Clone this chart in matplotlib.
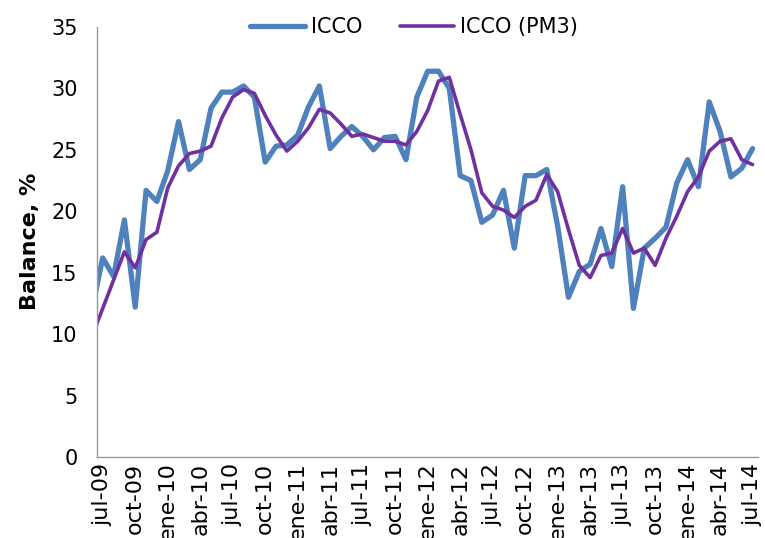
import matplotlib
matplotlib.use("Agg")
import matplotlib.pyplot as plt
import numpy as np

# Monthly data; first entry (jun-09) lies just left of the plotted range
months = list(range(-1, 61))
icco = [12.0, 16.2, 14.7, 19.3, 12.2, 21.7, 20.8, 23.3, 27.3, 23.4, 24.2,
        28.4, 29.7, 29.7, 30.2, 29.3, 24.0, 25.3, 25.4, 26.2, 28.5,
        30.2, 25.1, 26.1, 26.9, 26.1, 25.0, 26.0, 26.1, 24.2, 29.3,
        31.4, 31.4, 30.0, 22.9, 22.5, 19.1, 19.7, 21.7, 17.0, 22.9,
        22.9, 23.4, 18.8, 13.0, 15.1, 15.7, 18.6, 15.5, 22.0, 12.1,
        17.0, 17.8, 18.7, 22.3, 24.2, 22.0, 28.9, 26.5, 22.8, 23.5, 25.1]
icco_pm3 = [9.8, 12.1, 14.4, 16.7, 15.4, 17.7, 18.3, 21.9, 23.7, 24.7, 24.9,
            25.3, 27.6, 29.3, 29.9, 29.6, 27.8, 26.2, 24.9, 25.7, 26.8,
            28.3, 28.0, 27.1, 26.1, 26.3, 26.0, 25.7, 25.7, 25.4, 26.5,
            28.2, 30.6, 30.9, 27.9, 25.0, 21.5, 20.4, 20.1, 19.5, 20.4,
            20.9, 23.0, 21.6, 18.5, 15.6, 14.6, 16.4, 16.6, 18.6, 16.6,
            17.0, 15.6, 17.8, 19.6, 21.6, 22.8, 24.9, 25.7, 25.9, 24.2, 23.8]
tick_labels = ["jul-09", "oct-09", "ene-10", "abr-10", "jul-10", "oct-10",
               "ene-11", "abr-11", "jul-11", "oct-11", "ene-12", "abr-12",
               "jul-12", "oct-12", "ene-13", "abr-13", "jul-13", "oct-13",
               "ene-14", "abr-14", "jul-14"]

fig = plt.figure(figsize=(7.65, 5.38), dpi=100)
ax = fig.add_axes([97/765, 1-457/538, (758-97)/765, (457-27)/538])

ax.plot(months, icco, color="#4F81BD", lw=3.8, label="ICCO",
        solid_joinstyle="round", solid_capstyle="round")
ax.plot(months, icco_pm3, color="#7030A0", lw=2.6, label="ICCO (PM3)",
        solid_joinstyle="round", solid_capstyle="round")

ax.set_xlim(-0.53, 60.5)
ax.set_ylim(0, 35)
ax.set_yticks(range(0, 36, 5))
ax.set_xticks(range(0, 61, 3))
ax.set_xticklabels(tick_labels, rotation=90)
ax.tick_params(axis="y", length=0, pad=14, labelsize=15)
ax.tick_params(axis="x", length=0, pad=4, labelsize=16)

for s in ["top", "right"]:
    ax.spines[s].set_visible(False)
for s in ["left", "bottom"]:
    ax.spines[s].set_color("#999999")
    ax.spines[s].set_linewidth(1.0)

fig.text(30/765, 1-241/538, "Balance, %", rotation=90, ha="center",
         va="center", fontsize=16, fontweight="bold")

leg = ax.legend(loc="center", bbox_to_anchor=(0.48, 1.0), ncol=2,
                frameon=False, fontsize=15, handlelength=2.6,
                handletextpad=0.3, columnspacing=1.8)

fig.savefig("out.png", dpi=100)
